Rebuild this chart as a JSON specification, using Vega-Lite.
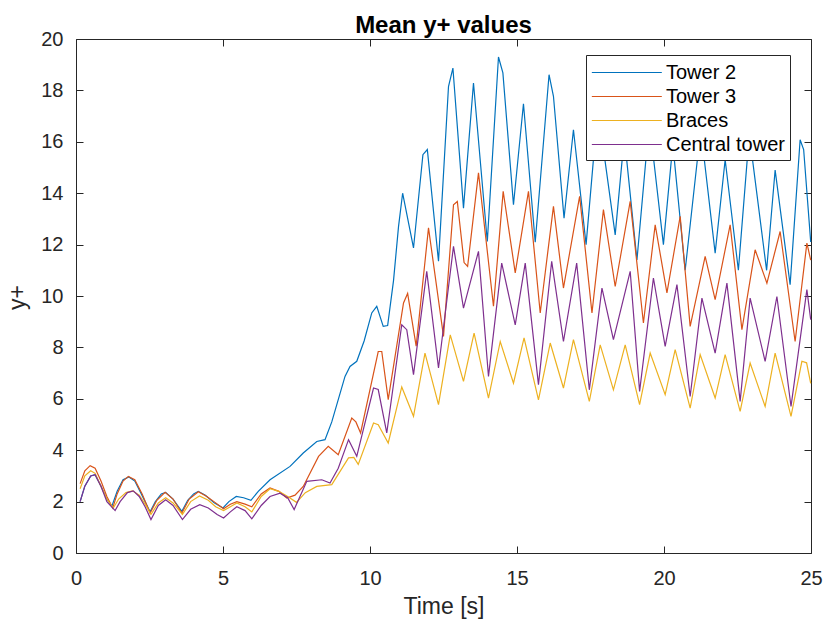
{
"$schema":"https://vega.github.io/schema/vega-lite/v6.json",
"width":735,"height":514,
"autosize":{"type":"none"},
"padding":{"left":76,"top":39,"right":15,"bottom":66},
"background":"white",
"title":{"text":"Mean y+ values","fontSize":24,"fontWeight":"bold","font":"Liberation Sans","color":"#000000","frame":"group","offset":-9,"anchor":"middle"},
"config":{"view":{"stroke":null},"font":"Liberation Sans"},
"datasets":{"pts":[
{"s":"Tower 2","t":0.14,"y":2.0},{"s":"Tower 2","t":0.3,"y":2.6},{"s":"Tower 2","t":0.5,"y":3.0},{"s":"Tower 2","t":0.65,"y":3.05},{"s":"Tower 2","t":0.85,"y":2.6},{"s":"Tower 2","t":1.05,"y":2.1},{"s":"Tower 2","t":1.22,"y":1.82},{"s":"Tower 2","t":1.4,"y":2.4},{"s":"Tower 2","t":1.6,"y":2.85},{"s":"Tower 2","t":1.8,"y":2.96},{"s":"Tower 2","t":2.0,"y":2.8},{"s":"Tower 2","t":2.2,"y":2.35},{"s":"Tower 2","t":2.52,"y":1.6},{"s":"Tower 2","t":2.7,"y":2.0},{"s":"Tower 2","t":2.9,"y":2.3},{"s":"Tower 2","t":3.05,"y":2.36},{"s":"Tower 2","t":3.3,"y":2.1},{"s":"Tower 2","t":3.6,"y":1.62},{"s":"Tower 2","t":3.8,"y":2.05},{"s":"Tower 2","t":4.0,"y":2.3},{"s":"Tower 2","t":4.16,"y":2.4},{"s":"Tower 2","t":4.4,"y":2.25},{"s":"Tower 2","t":4.7,"y":1.95},{"s":"Tower 2","t":5.0,"y":1.75},{"s":"Tower 2","t":5.2,"y":2.0},{"s":"Tower 2","t":5.45,"y":2.2},{"s":"Tower 2","t":5.7,"y":2.15},{"s":"Tower 2","t":5.95,"y":2.05},{"s":"Tower 2","t":6.2,"y":2.4},{"s":"Tower 2","t":6.6,"y":2.85},{"s":"Tower 2","t":7.28,"y":3.37},{"s":"Tower 2","t":7.73,"y":3.89},{"s":"Tower 2","t":8.19,"y":4.34},{"s":"Tower 2","t":8.47,"y":4.41},{"s":"Tower 2","t":8.7,"y":5.1},{"s":"Tower 2","t":9.15,"y":6.87},{"s":"Tower 2","t":9.32,"y":7.26},{"s":"Tower 2","t":9.55,"y":7.46},{"s":"Tower 2","t":9.8,"y":8.25},{"s":"Tower 2","t":10.06,"y":9.34},{"s":"Tower 2","t":10.23,"y":9.6},{"s":"Tower 2","t":10.45,"y":8.82},{"s":"Tower 2","t":10.6,"y":8.85},{"s":"Tower 2","t":10.8,"y":10.6},{"s":"Tower 2","t":10.97,"y":12.7},{"s":"Tower 2","t":11.11,"y":14.0},{"s":"Tower 2","t":11.48,"y":11.87},{"s":"Tower 2","t":11.8,"y":15.5},{"s":"Tower 2","t":11.95,"y":15.7},{"s":"Tower 2","t":12.33,"y":11.35},{"s":"Tower 2","t":12.67,"y":18.15},{"s":"Tower 2","t":12.82,"y":18.87},{"s":"Tower 2","t":13.18,"y":13.42},{"s":"Tower 2","t":13.52,"y":18.29},{"s":"Tower 2","t":13.99,"y":12.12},{"s":"Tower 2","t":14.37,"y":19.3},{"s":"Tower 2","t":14.52,"y":18.68},{"s":"Tower 2","t":14.88,"y":13.55},{"s":"Tower 2","t":15.22,"y":17.48},{"s":"Tower 2","t":15.62,"y":12.09},{"s":"Tower 2","t":16.09,"y":18.61},{"s":"Tower 2","t":16.24,"y":17.77},{"s":"Tower 2","t":16.6,"y":13.03},{"s":"Tower 2","t":16.92,"y":16.47},{"s":"Tower 2","t":17.35,"y":12.0},{"s":"Tower 2","t":17.75,"y":17.3},{"s":"Tower 2","t":18.34,"y":12.38},{"s":"Tower 2","t":18.65,"y":16.2},{"s":"Tower 2","t":19.08,"y":11.4},{"s":"Tower 2","t":19.5,"y":16.8},{"s":"Tower 2","t":19.98,"y":12.0},{"s":"Tower 2","t":20.3,"y":15.9},{"s":"Tower 2","t":20.72,"y":11.0},{"s":"Tower 2","t":21.25,"y":16.5},{"s":"Tower 2","t":21.74,"y":11.67},{"s":"Tower 2","t":22.08,"y":15.3},{"s":"Tower 2","t":22.53,"y":11.0},{"s":"Tower 2","t":22.9,"y":16.3},{"s":"Tower 2","t":23.49,"y":11.0},{"s":"Tower 2","t":23.78,"y":14.9},{"s":"Tower 2","t":24.29,"y":10.44},{"s":"Tower 2","t":24.63,"y":16.08},{"s":"Tower 2","t":24.75,"y":15.7},{"s":"Tower 2","t":24.99,"y":12.1},
{"s":"Tower 3","t":0.14,"y":2.7},{"s":"Tower 3","t":0.3,"y":3.2},{"s":"Tower 3","t":0.48,"y":3.4},{"s":"Tower 3","t":0.65,"y":3.3},{"s":"Tower 3","t":0.85,"y":2.8},{"s":"Tower 3","t":1.05,"y":2.2},{"s":"Tower 3","t":1.25,"y":1.75},{"s":"Tower 3","t":1.4,"y":2.3},{"s":"Tower 3","t":1.6,"y":2.8},{"s":"Tower 3","t":1.78,"y":2.98},{"s":"Tower 3","t":2.0,"y":2.85},{"s":"Tower 3","t":2.25,"y":2.3},{"s":"Tower 3","t":2.52,"y":1.55},{"s":"Tower 3","t":2.75,"y":2.05},{"s":"Tower 3","t":3.03,"y":2.36},{"s":"Tower 3","t":3.3,"y":2.1},{"s":"Tower 3","t":3.6,"y":1.55},{"s":"Tower 3","t":3.85,"y":2.1},{"s":"Tower 3","t":4.16,"y":2.38},{"s":"Tower 3","t":4.45,"y":2.2},{"s":"Tower 3","t":4.75,"y":1.95},{"s":"Tower 3","t":5.02,"y":1.72},{"s":"Tower 3","t":5.25,"y":1.9},{"s":"Tower 3","t":5.47,"y":2.0},{"s":"Tower 3","t":5.75,"y":1.9},{"s":"Tower 3","t":5.98,"y":1.8},{"s":"Tower 3","t":6.3,"y":2.3},{"s":"Tower 3","t":6.6,"y":2.53},{"s":"Tower 3","t":6.9,"y":2.4},{"s":"Tower 3","t":7.17,"y":2.14},{"s":"Tower 3","t":7.45,"y":2.25},{"s":"Tower 3","t":7.73,"y":2.59},{"s":"Tower 3","t":8.25,"y":3.76},{"s":"Tower 3","t":8.58,"y":4.15},{"s":"Tower 3","t":8.92,"y":3.82},{"s":"Tower 3","t":9.38,"y":5.25},{"s":"Tower 3","t":9.52,"y":5.1},{"s":"Tower 3","t":9.68,"y":4.67},{"s":"Tower 3","t":10.28,"y":7.84},{"s":"Tower 3","t":10.4,"y":7.84},{"s":"Tower 3","t":10.62,"y":5.97},{"s":"Tower 3","t":11.14,"y":9.73},{"s":"Tower 3","t":11.28,"y":10.1},{"s":"Tower 3","t":11.57,"y":8.05},{"s":"Tower 3","t":11.99,"y":12.65},{"s":"Tower 3","t":12.5,"y":8.43},{"s":"Tower 3","t":12.84,"y":13.55},{"s":"Tower 3","t":12.97,"y":13.68},{"s":"Tower 3","t":13.2,"y":11.3},{"s":"Tower 3","t":13.32,"y":11.15},{"s":"Tower 3","t":13.69,"y":14.79},{"s":"Tower 3","t":14.2,"y":9.6},{"s":"Tower 3","t":14.53,"y":14.07},{"s":"Tower 3","t":14.94,"y":10.9},{"s":"Tower 3","t":15.39,"y":14.07},{"s":"Tower 3","t":15.79,"y":9.34},{"s":"Tower 3","t":16.24,"y":13.49},{"s":"Tower 3","t":16.58,"y":10.31},{"s":"Tower 3","t":17.13,"y":13.88},{"s":"Tower 3","t":17.55,"y":9.34},{"s":"Tower 3","t":17.94,"y":13.36},{"s":"Tower 3","t":18.34,"y":10.37},{"s":"Tower 3","t":18.85,"y":13.68},{"s":"Tower 3","t":19.3,"y":8.95},{"s":"Tower 3","t":19.7,"y":12.77},{"s":"Tower 3","t":20.1,"y":10.12},{"s":"Tower 3","t":20.55,"y":13.1},{"s":"Tower 3","t":20.89,"y":8.82},{"s":"Tower 3","t":21.4,"y":11.54},{"s":"Tower 3","t":21.74,"y":9.86},{"s":"Tower 3","t":22.25,"y":12.77},{"s":"Tower 3","t":22.65,"y":8.69},{"s":"Tower 3","t":23.1,"y":11.8},{"s":"Tower 3","t":23.5,"y":10.5},{"s":"Tower 3","t":23.95,"y":12.51},{"s":"Tower 3","t":24.46,"y":8.23},{"s":"Tower 3","t":24.86,"y":12.06},{"s":"Tower 3","t":24.99,"y":11.4},
{"s":"Braces","t":0.14,"y":2.5},{"s":"Braces","t":0.3,"y":3.0},{"s":"Braces","t":0.5,"y":3.2},{"s":"Braces","t":0.65,"y":3.1},{"s":"Braces","t":0.85,"y":2.6},{"s":"Braces","t":1.05,"y":2.1},{"s":"Braces","t":1.27,"y":1.75},{"s":"Braces","t":1.45,"y":2.1},{"s":"Braces","t":1.7,"y":2.35},{"s":"Braces","t":1.92,"y":2.42},{"s":"Braces","t":2.15,"y":2.25},{"s":"Braces","t":2.35,"y":1.9},{"s":"Braces","t":2.55,"y":1.5},{"s":"Braces","t":2.8,"y":1.95},{"s":"Braces","t":3.05,"y":2.15},{"s":"Braces","t":3.3,"y":1.95},{"s":"Braces","t":3.62,"y":1.5},{"s":"Braces","t":3.9,"y":2.0},{"s":"Braces","t":4.2,"y":2.22},{"s":"Braces","t":4.5,"y":2.05},{"s":"Braces","t":4.75,"y":1.8},{"s":"Braces","t":5.02,"y":1.65},{"s":"Braces","t":5.25,"y":1.8},{"s":"Braces","t":5.47,"y":1.95},{"s":"Braces","t":5.75,"y":1.8},{"s":"Braces","t":5.98,"y":1.6},{"s":"Braces","t":6.3,"y":2.2},{"s":"Braces","t":6.6,"y":2.5},{"s":"Braces","t":6.9,"y":2.4},{"s":"Braces","t":7.2,"y":2.2},{"s":"Braces","t":7.5,"y":1.97},{"s":"Braces","t":7.8,"y":2.35},{"s":"Braces","t":8.19,"y":2.59},{"s":"Braces","t":8.7,"y":2.66},{"s":"Braces","t":9.27,"y":3.7},{"s":"Braces","t":9.45,"y":3.72},{"s":"Braces","t":9.6,"y":3.45},{"s":"Braces","t":10.12,"y":5.06},{"s":"Braces","t":10.28,"y":4.99},{"s":"Braces","t":10.62,"y":4.28},{"s":"Braces","t":11.08,"y":6.46},{"s":"Braces","t":11.48,"y":5.32},{"s":"Braces","t":11.87,"y":7.78},{"s":"Braces","t":12.33,"y":5.77},{"s":"Braces","t":12.73,"y":8.49},{"s":"Braces","t":13.18,"y":6.68},{"s":"Braces","t":13.54,"y":8.56},{"s":"Braces","t":14.03,"y":6.03},{"s":"Braces","t":14.43,"y":8.23},{"s":"Braces","t":14.88,"y":6.61},{"s":"Braces","t":15.24,"y":8.37},{"s":"Braces","t":15.73,"y":5.96},{"s":"Braces","t":16.13,"y":8.17},{"s":"Braces","t":16.58,"y":6.42},{"s":"Braces","t":16.92,"y":8.3},{"s":"Braces","t":17.46,"y":5.9},{"s":"Braces","t":17.83,"y":8.1},{"s":"Braces","t":18.28,"y":6.35},{"s":"Braces","t":18.68,"y":8.1},{"s":"Braces","t":19.17,"y":5.77},{"s":"Braces","t":19.53,"y":7.78},{"s":"Braces","t":20.04,"y":6.16},{"s":"Braces","t":20.38,"y":7.91},{"s":"Braces","t":20.89,"y":5.64},{"s":"Braces","t":21.23,"y":7.72},{"s":"Braces","t":21.74,"y":6.03},{"s":"Braces","t":22.08,"y":7.72},{"s":"Braces","t":22.59,"y":5.51},{"s":"Braces","t":22.93,"y":7.39},{"s":"Braces","t":23.44,"y":5.7},{"s":"Braces","t":23.78,"y":7.78},{"s":"Braces","t":24.32,"y":5.32},{"s":"Braces","t":24.69,"y":7.46},{"s":"Braces","t":24.85,"y":7.4},{"s":"Braces","t":24.99,"y":6.6},
{"s":"Central tower","t":0.14,"y":2.0},{"s":"Central tower","t":0.3,"y":2.6},{"s":"Central tower","t":0.5,"y":3.0},{"s":"Central tower","t":0.65,"y":3.05},{"s":"Central tower","t":0.85,"y":2.6},{"s":"Central tower","t":1.05,"y":2.0},{"s":"Central tower","t":1.33,"y":1.65},{"s":"Central tower","t":1.5,"y":2.0},{"s":"Central tower","t":1.75,"y":2.35},{"s":"Central tower","t":1.95,"y":2.42},{"s":"Central tower","t":2.15,"y":2.2},{"s":"Central tower","t":2.35,"y":1.8},{"s":"Central tower","t":2.55,"y":1.3},{"s":"Central tower","t":2.8,"y":1.85},{"s":"Central tower","t":3.05,"y":2.07},{"s":"Central tower","t":3.3,"y":1.85},{"s":"Central tower","t":3.62,"y":1.3},{"s":"Central tower","t":3.9,"y":1.7},{"s":"Central tower","t":4.21,"y":1.88},{"s":"Central tower","t":4.5,"y":1.75},{"s":"Central tower","t":4.8,"y":1.5},{"s":"Central tower","t":5.02,"y":1.36},{"s":"Central tower","t":5.25,"y":1.6},{"s":"Central tower","t":5.47,"y":1.8},{"s":"Central tower","t":5.75,"y":1.65},{"s":"Central tower","t":5.98,"y":1.33},{"s":"Central tower","t":6.3,"y":1.85},{"s":"Central tower","t":6.6,"y":2.2},{"s":"Central tower","t":6.94,"y":2.33},{"s":"Central tower","t":7.2,"y":2.15},{"s":"Central tower","t":7.42,"y":1.69},{"s":"Central tower","t":7.85,"y":2.79},{"s":"Central tower","t":8.36,"y":2.85},{"s":"Central tower","t":8.64,"y":2.72},{"s":"Central tower","t":8.92,"y":3.3},{"s":"Central tower","t":9.27,"y":4.41},{"s":"Central tower","t":9.55,"y":3.76},{"s":"Central tower","t":10.12,"y":6.42},{"s":"Central tower","t":10.28,"y":6.36},{"s":"Central tower","t":10.57,"y":4.67},{"s":"Central tower","t":11.08,"y":8.88},{"s":"Central tower","t":11.25,"y":8.69},{"s":"Central tower","t":11.48,"y":6.94},{"s":"Central tower","t":11.93,"y":10.96},{"s":"Central tower","t":12.33,"y":7.2},{"s":"Central tower","t":12.84,"y":11.93},{"s":"Central tower","t":13.18,"y":9.53},{"s":"Central tower","t":13.69,"y":11.74},{"s":"Central tower","t":14.03,"y":6.87},{"s":"Central tower","t":14.48,"y":11.28},{"s":"Central tower","t":14.94,"y":8.88},{"s":"Central tower","t":15.28,"y":11.28},{"s":"Central tower","t":15.73,"y":6.55},{"s":"Central tower","t":16.18,"y":11.35},{"s":"Central tower","t":16.58,"y":8.23},{"s":"Central tower","t":17.03,"y":11.28},{"s":"Central tower","t":17.46,"y":6.35},{"s":"Central tower","t":17.89,"y":10.31},{"s":"Central tower","t":18.28,"y":8.3},{"s":"Central tower","t":18.85,"y":10.96},{"s":"Central tower","t":19.17,"y":6.29},{"s":"Central tower","t":19.64,"y":10.7},{"s":"Central tower","t":20.04,"y":8.04},{"s":"Central tower","t":20.44,"y":10.44},{"s":"Central tower","t":20.89,"y":6.09},{"s":"Central tower","t":21.29,"y":9.92},{"s":"Central tower","t":21.74,"y":7.78},{"s":"Central tower","t":22.14,"y":10.5},{"s":"Central tower","t":22.59,"y":5.9},{"s":"Central tower","t":22.93,"y":9.92},{"s":"Central tower","t":23.44,"y":7.46},{"s":"Central tower","t":23.84,"y":9.98},{"s":"Central tower","t":24.32,"y":5.7},{"s":"Central tower","t":24.86,"y":10.25},{"s":"Central tower","t":24.99,"y":9.08}
]},
"data":{"name":"pts"},
"layer":[
{"mark":{"type":"line","strokeWidth":1.2,"interpolate":"linear"},
 "encoding":{
  "x":{"field":"t","type":"quantitative","scale":{"domain":[0,25],"nice":false,"zero":false},
       "axis":{"orient":"bottom","values":[0,5,10,15,20,25],"grid":false,"tickSize":-7,"labelPadding":22,"labelFontSize":20,"labelColor":"#262626","labelFont":"Liberation Sans","domainColor":"#262626","tickColor":"#262626","title":"Time [s]","titleFontSize":23,"titleFontWeight":"normal","titleColor":"#262626","titleFont":"Liberation Sans","titleY":60,"titleBaseline":"alphabetic","labelFlush":false}},
  "y":{"field":"y","type":"quantitative","scale":{"domain":[0,20],"nice":false},
       "axis":{"orient":"left","values":[0,2,4,6,8,10,12,14,16,18,20],"grid":false,"tickSize":-7,"labelPadding":20,"labelFontSize":20,"labelColor":"#262626","labelFont":"Liberation Sans","domainColor":"#262626","tickColor":"#262626","title":"y+","titleFontSize":23,"titleFontWeight":"normal","titleColor":"#262626","titleFont":"Liberation Sans","titleX":-59,"titleY":258,"titleBaseline":"middle","titleAlign":"center","labelFlush":false}},
  "color":{"field":"s","type":"nominal",
       "scale":{"domain":["Tower 2","Tower 3","Braces","Central tower"],"range":["#0072BD","#D95319","#EDB120","#7E2F8E"]},
       "legend":{"title":null,"orient":"none","legendX":510,"legendY":16,"direction":"vertical","symbolType":"M-1,0H5","symbolSize":544,"symbolStrokeWidth":1.2,"labelFontSize":20,"labelFont":"Liberation Sans","labelColor":"#000000","labelOffset":50,"rowPadding":1,"padding":5,"strokeColor":"#262626","fillColor":"white","cornerRadius":0}}
 }},
{"mark":{"type":"point","opacity":0},
 "encoding":{
  "x":{"field":"t","type":"quantitative","scale":{"domain":[0,25],"nice":false,"zero":false},
       "axis":{"orient":"top","values":[0,5,10,15,20,25],"labels":false,"title":null,"grid":false,"tickSize":-7,"domainColor":"#262626","tickColor":"#262626"}},
  "y":{"field":"y","type":"quantitative","scale":{"domain":[0,20],"nice":false},
       "axis":{"orient":"right","values":[0,2,4,6,8,10,12,14,16,18,20],"labels":false,"title":null,"grid":false,"tickSize":-7,"domainColor":"#262626","tickColor":"#262626"}}
 }}
],
"resolve":{"axis":{"x":"independent","y":"independent"}}
}
